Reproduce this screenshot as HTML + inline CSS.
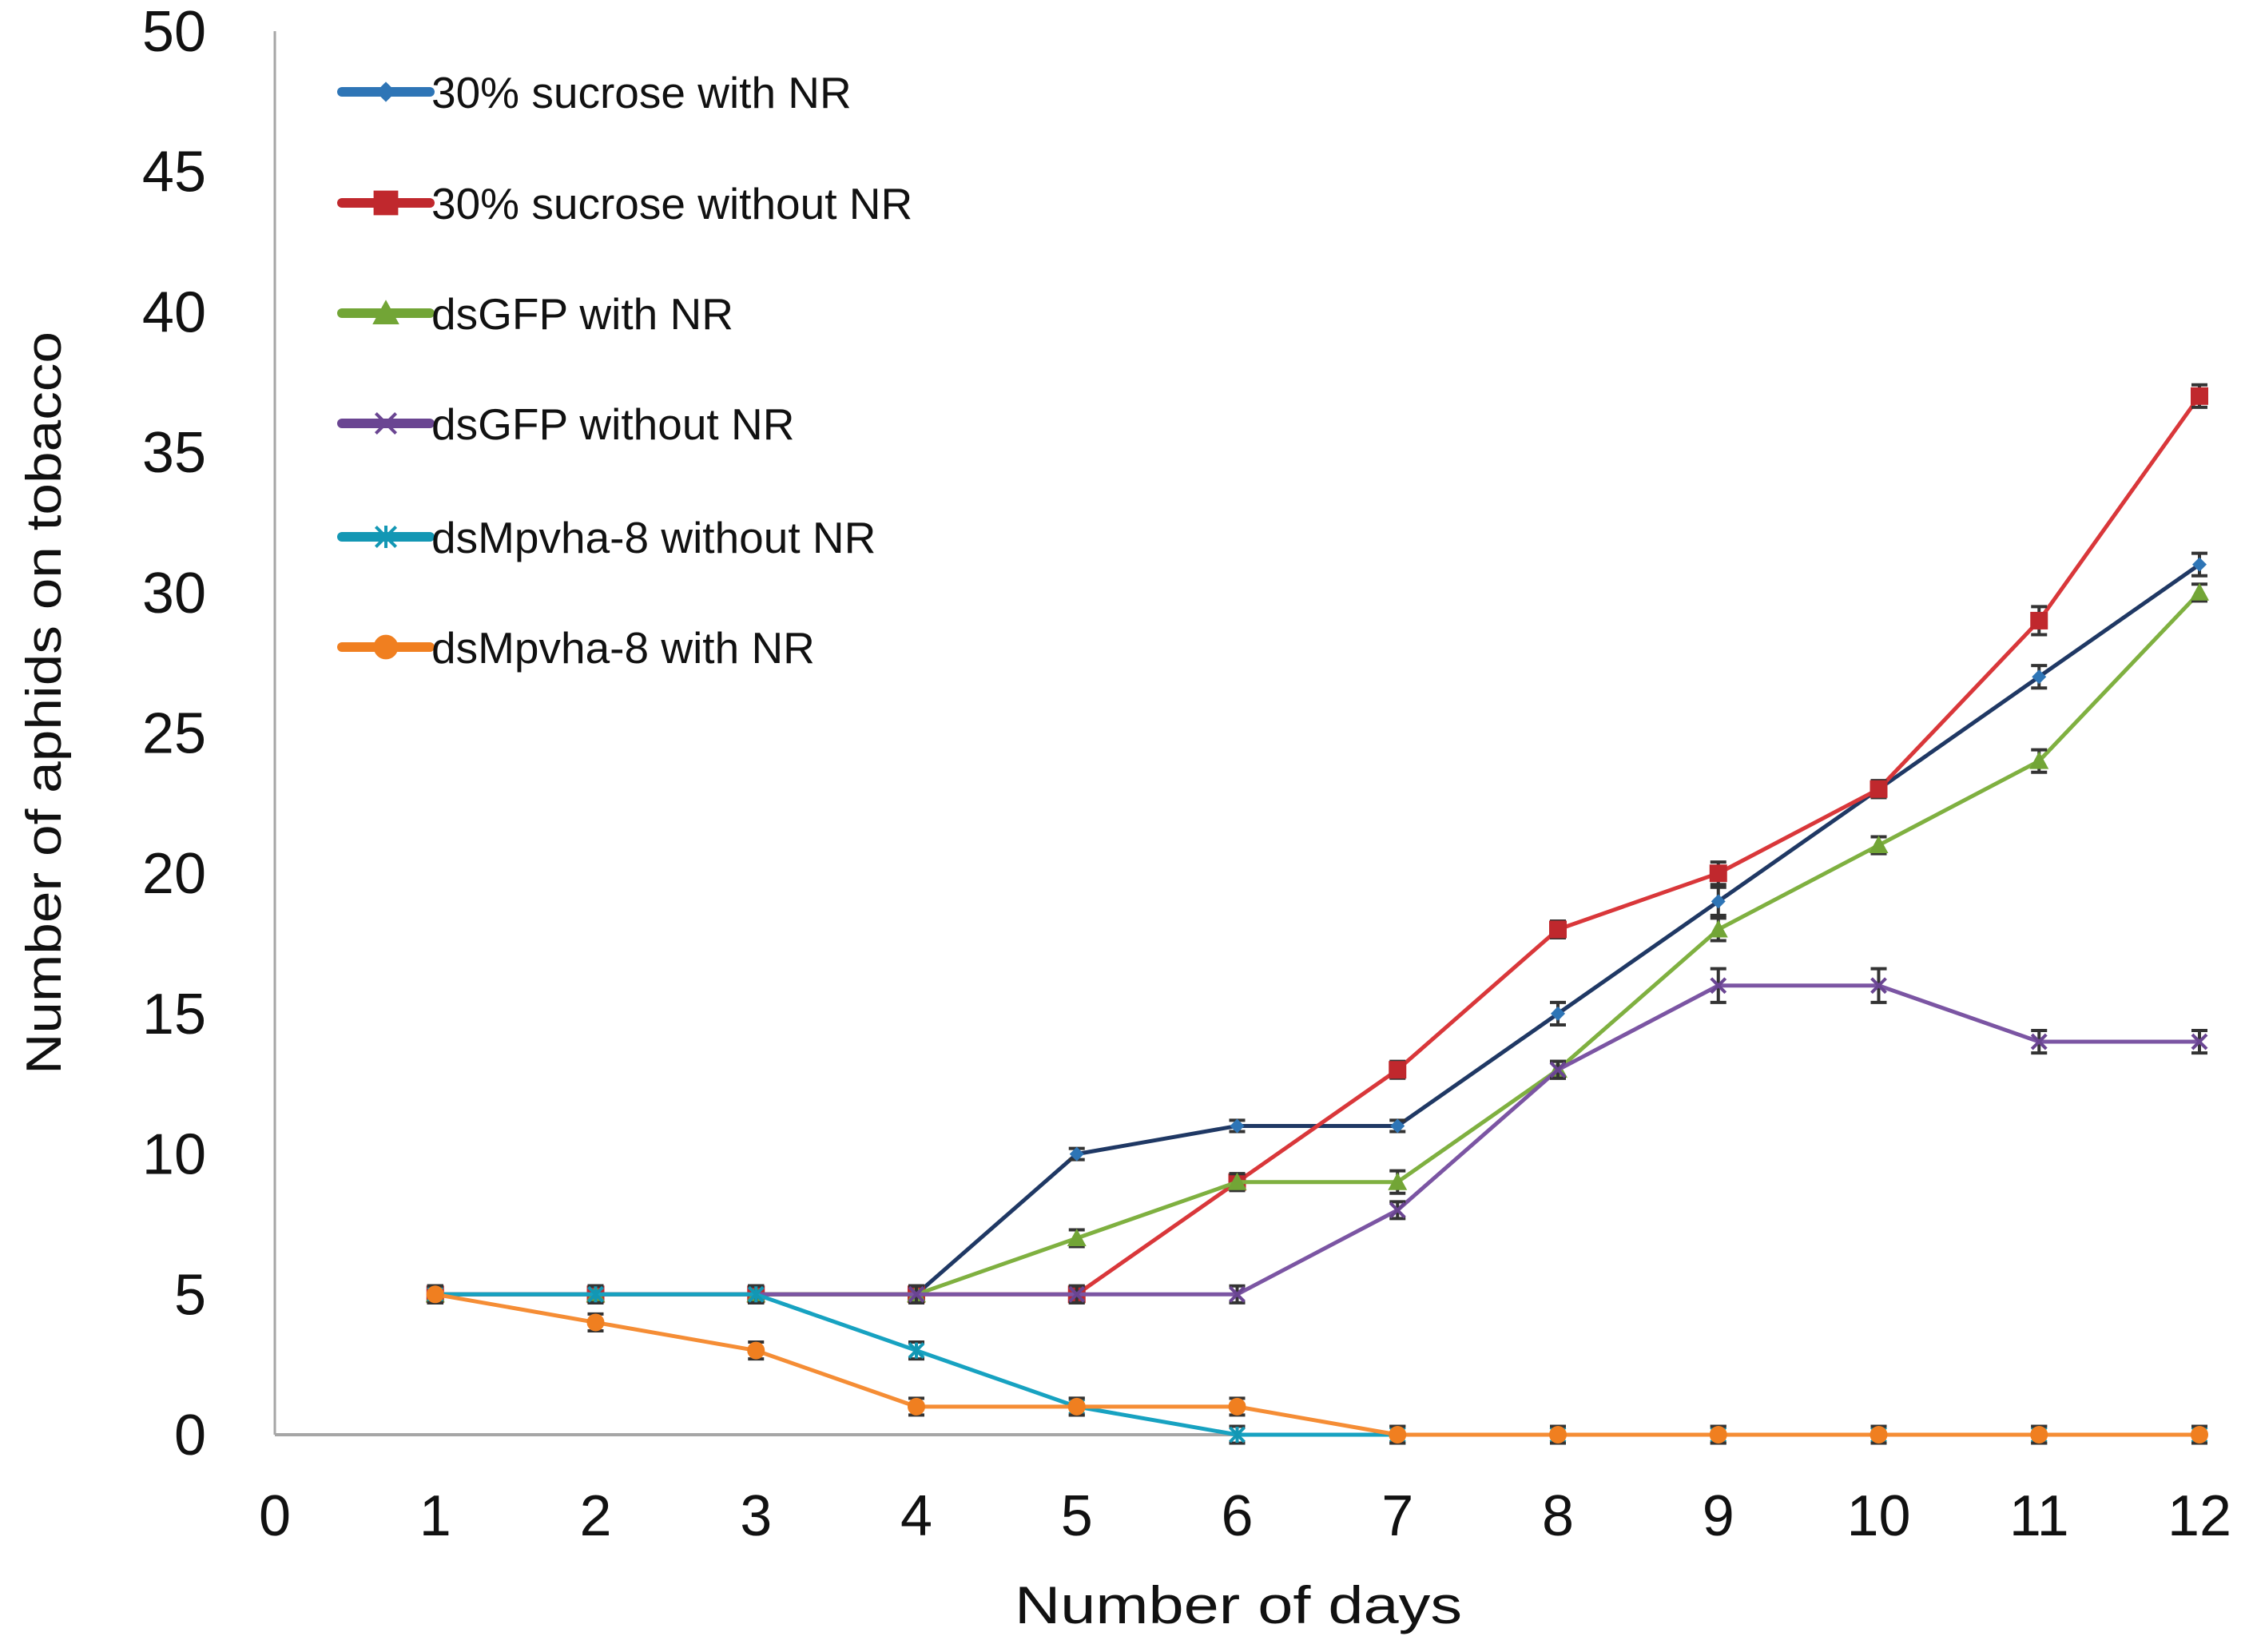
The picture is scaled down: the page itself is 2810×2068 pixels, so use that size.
<!DOCTYPE html>
<html><head><meta charset="utf-8"><style>
html,body{margin:0;padding:0;background:#fff}
svg{display:block}
text{font-family:"Liberation Sans","DejaVu Sans",sans-serif}
</style></head><body>
<svg id="chart" width="2810" height="2068" viewBox="0 0 2810 2068" xmlns="http://www.w3.org/2000/svg">
<g id="axes"></g>
<g id="series"></g>
<g id="legend"></g>
<text x="1550" y="2032" font-size="66" text-anchor="middle" fill="#111" textLength="560" lengthAdjust="spacingAndGlyphs">Number of days</text>
<text transform="translate(76,880) rotate(-90)" font-size="62" text-anchor="middle" fill="#111" textLength="930" lengthAdjust="spacingAndGlyphs">Number of aphids on tobacco</text>
</svg>
<script>
const days = [1,2,3,4,5,6,7,8,9,10,11,12];
const xTicks = [0,1,2,3,4,5,6,7,8,9,10,11,12];
const yTicks = [0,5,10,15,20,25,30,35,40,45,50];
const seriesNames = ["30% sucrose with NR","30% sucrose without NR","dsGFP with NR","dsGFP without NR","dsMpvha-8 without NR","dsMpvha-8 with NR"];
const sucroseWithNR = [5,5,5,5,10,11,11,15,19,23,27,31];
const sucroseWithoutNR = [5,5,5,5,5,9,13,18,20,23,29,37];
const dsGFPWithNR = [5,5,5,5,7,9,9,13,18,21,24,30];
const dsGFPWithoutNR = [5,5,5,5,5,5,8,13,16,16,14,14];
const dsMpvhaWithoutNR = [5,5,5,3,1,0,0,0,0,0,0,0];
const dsMpvhaWithNR = [5,4,3,1,1,1,0,0,0,0,0,0];
const errSucroseWithNR = [0.3,0.3,0.3,0.3,0.2,0.2,0.2,0.4,0.5,0.3,0.4,0.4];
const errSucroseWithoutNR = [0.3,0.3,0.3,0.3,0.3,0.3,0.3,0.3,0.4,0.3,0.5,0.4];
const errGFPWithNR = [0.3,0.3,0.3,0.3,0.3,0.3,0.4,0.3,0.4,0.3,0.4,0.3];
const errGFPWithoutNR = [0.3,0.3,0.3,0.3,0.3,0.3,0.3,0.3,0.6,0.6,0.4,0.4];
const errMpvhaWithoutNR = [0.3,0.3,0.3,0.3,0.3,0.3,0.3,0.3,0.3,0.3,0.3,0.3];
const errMpvhaWithNR = [0.3,0.3,0.3,0.3,0.3,0.3,0.3,0.3,0.3,0.3,0.3,0.3];

const NS="http://www.w3.org/2000/svg";
const X0=344,X1=2753,Y0=1796,Y1=39;
function xs(v){return X0+(v-0)/12*(X1-X0);}
function ys(v){return Y0-(v-0)/50*(Y0-Y1);}
function mk(tag,attrs,parent){const e=document.createElementNS(NS,tag);for(const k in attrs)e.setAttribute(k,attrs[k]);parent.appendChild(e);return e;}
const axes=document.getElementById('axes');
let l=mk('line',{x1:X0,y1:Y1,x2:X0,y2:Y0,stroke:'#a6a6a6','stroke-width':3},axes);


l=mk('line',{x1:X0,y1:Y0,x2:X1+8,y2:Y0,stroke:'#a6a6a6','stroke-width':4},axes);


yTicks.forEach(t=>{const e=mk('text',{x:258,y:ys(t)+25,'font-size':72,'text-anchor':'end',fill:'#111'},axes);e.textContent=t;

});
xTicks.forEach(t=>{const e=mk('text',{x:xs(t),y:1922,'font-size':72,'text-anchor':'middle',fill:'#111'},axes);e.textContent=t;

});

const series=[
 {vals:sucroseWithNR,err:errSucroseWithNR,line:'#1f3864',mark:'#2e75b6',shape:'diamond'},
 {vals:sucroseWithoutNR,err:errSucroseWithoutNR,line:'#d9373a',mark:'#c0282d',shape:'square'},
 {vals:dsGFPWithNR,err:errGFPWithNR,line:'#7fb040',mark:'#72a536',shape:'triangle'},
 {vals:dsGFPWithoutNR,err:errGFPWithoutNR,line:'#7b55a3',mark:'#6a4592',shape:'x'},
 {vals:dsMpvhaWithoutNR,err:errMpvhaWithoutNR,line:'#17a2c1',mark:'#1397b4',shape:'star'},
 {vals:dsMpvhaWithNR,err:errMpvhaWithNR,line:'#f58d35',mark:'#f07f20',shape:'circle'}
];
function marker(shape,cx,cy,c,g,s){s=s||1;
 if(shape==='diamond')return mk('polygon',{points:`${cx},${cy-9*s} ${cx+9*s},${cy} ${cx},${cy+9*s} ${cx-9*s},${cy}`,fill:c},g);
 if(shape==='square')return mk('rect',{x:cx-11*s,y:cy-11*s,width:22*s,height:22*s,fill:c},g);
 if(shape==='triangle')return mk('polygon',{points:`${cx},${cy-12*s} ${cx+12*s},${cy+10*s} ${cx-12*s},${cy+10*s}`,fill:c},g);
 if(shape==='circle')return mk('circle',{cx:cx,cy:cy,r:11*s,fill:c},g);
 const p=mk('path',{d:`M${cx-9*s},${cy-9*s}L${cx+9*s},${cy+9*s}M${cx+9*s},${cy-9*s}L${cx-9*s},${cy+9*s}`+(shape==='star'?`M${cx},${cy-10*s}L${cx},${cy+10*s}`:''),stroke:c,'stroke-width':4,fill:'none'},g);return p;}
const sg=document.getElementById('series');
series.forEach((s,i)=>{
 const g=mk('g',{},sg);
 
 
 const pts=days.map((d,j)=>xs(d)+','+ys(s.vals[j])).join(' ');
 const pl=mk('polyline',{points:pts,fill:'none',stroke:s.line,'stroke-width':5,'stroke-linejoin':'round'},g);
 
 
 days.forEach((d,j)=>{
  const cx=xs(d),cy=ys(s.vals[j]),e=s.err[j];
  const eb=mk('path',{d:`M${cx},${ys(s.vals[j]+e)}L${cx},${ys(s.vals[j]-e)}M${cx-10},${ys(s.vals[j]+e)}L${cx+10},${ys(s.vals[j]+e)}M${cx-10},${ys(s.vals[j]-e)}L${cx+10},${ys(s.vals[j]-e)}`,stroke:'#333','stroke-width':4,fill:'none'},g);
  
  
  const m=marker(s.shape,cx,cy,s.mark,g);
  
  
 });
});
const lg=document.getElementById('legend');
const rowY=[115,254,392,530,672,810];
series.forEach((s,i)=>{
 const g=mk('g',{},lg);
 
 
 mk('line',{x1:428,y1:rowY[i],x2:538,y2:rowY[i],stroke:s.mark,'stroke-width':12,'stroke-linecap':'round'},g);
 marker(s.shape,483,rowY[i],s.mark,g,1.4);
 const t=mk('text',{x:540,y:rowY[i]+20,'font-size':55,fill:'#111'},g);
 t.textContent=seriesNames[i];
});
</script>
</body></html>
